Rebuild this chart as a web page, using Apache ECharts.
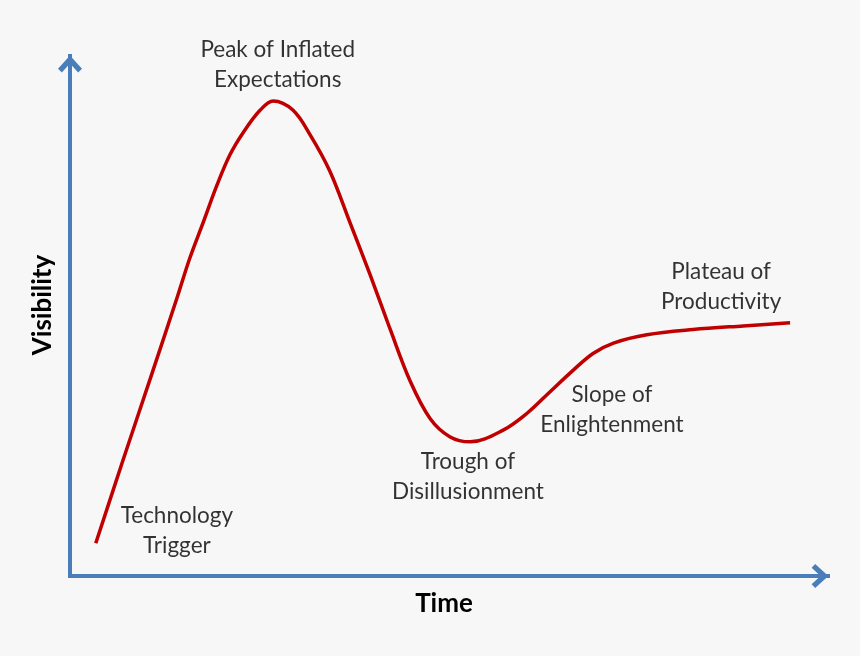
<!DOCTYPE html>
<html>
<head>
<meta charset="utf-8">
<script src="https://cdn.jsdelivr.net/npm/echarts@6/dist/echarts.min.js"></script>
<style>
html,body{margin:0;padding:0;background:#f7f7f7;}
#chart{width:860px;height:656px;}
</style>
</head>
<body>
<div id="chart"></div>
<script>
// Hype cycle curve: time (x) vs visibility (y), 0-100 units
var curveX = [3.4, 7.0, 10.6, 14.1, 15.8, 17.6, 19.4, 21.1, 22.9, 25.1, 26.8, 29.4, 31.7, 34.3, 36.9, 39.6, 42.2, 44.9, 47.5, 50.1, 52.8, 57.2, 60.3, 63.3, 66.4, 69.0, 71.7, 76.1, 82.2, 88.8, 95.0];
var curveY = [6.3, 22.3, 38.0, 53.4, 61.1, 68.1, 75.2, 81.0, 85.4, 89.6, 91.35, 89.6, 84.8, 77.8, 68.1, 57.9, 47.6, 37.4, 30.3, 26.8, 25.8, 28.1, 31.3, 35.4, 39.6, 42.8, 44.8, 46.4, 47.4, 48.1, 48.7];

// Phase annotations
var phaseNames = ['Technology\nTrigger', 'Peak of Inflated\nExpectations', 'Trough of\nDisillusionment', 'Slope of\nEnlightenment', 'Plateau of\nProductivity'];
var phaseX = [14.1, 27.4, 52.5, 71.5, 85.9];
var phaseY = [8.7, 98.3, 19.0, 31.9, 55.6];

var xAxisName = 'Time';
var yAxisName = 'Visibility';

var curveData = curveX.map(function (x, i) { return [x, curveY[i]]; });
var phaseData = phaseX.map(function (x, i) { return { value: [x, phaseY[i]], name: phaseNames[i] }; });

var axisColor = '#4a7ebb';
var chevron = 'path://M10,0 L20,11 L16.8,14 L10,6.6 L3.2,14 L0,11 Z';

var axisLineCfg = {
  show: true, onZero: false, symbol: ['none', chevron], symbolSize: [24, 16.8], symbolOffset: [0, -8],
  lineStyle: { color: axisColor, width: 4, cap: 'square' }
};

var chart = echarts.init(document.getElementById('chart'));
chart.setOption({
  backgroundColor: '#f7f7f7',
  animation: false,
  grid: { left: 70, right: 32, top: 56, bottom: 80 },
  xAxis: {
    type: 'value', min: 0, max: 100,
    name: xAxisName, nameLocation: 'middle', nameGap: 15,
    nameTextStyle: { fontFamily: 'Lato', fontWeight: 'bold', fontSize: 26, color: '#000', padding: [0, 10, 0, 0] },
    axisLine: axisLineCfg,
    axisTick: { show: false }, axisLabel: { show: false }, splitLine: { show: false }
  },
  yAxis: {
    type: 'value', min: 0, max: 100,
    name: yAxisName, nameLocation: 'middle', nameGap: 14,
    nameTextStyle: { fontFamily: 'Lato', fontWeight: 'bold', fontSize: 26, color: '#000', padding: [0, 0, 0, 22] },
    axisLine: axisLineCfg,
    axisTick: { show: false }, axisLabel: { show: false }, splitLine: { show: false }
  },
  series: [
    {
      type: 'line', data: curveData, smooth: 0.35, symbol: 'none', clip: false,
      lineStyle: { color: '#c00000', width: 3.5 }
    },
    {
      type: 'scatter', data: phaseData, symbolSize: 0, silent: true,
      label: {
        show: true, position: 'inside', formatter: function (p) { return p.name; },
        fontFamily: 'Lato', fontSize: 22.5, lineHeight: 30, color: '#000', align: 'center', verticalAlign: 'middle'
      }
    }
  ]
});
</script>
</body>
</html>
